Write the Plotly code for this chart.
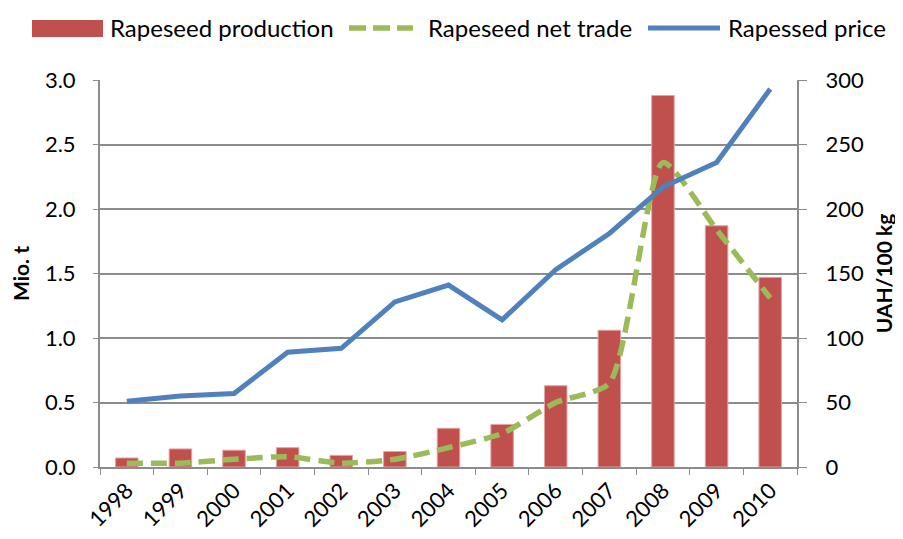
import plotly.graph_objects as go

YEARS = ["1998", "1999", "2000", "2001", "2002", "2003", "2004",
         "2005", "2006", "2007", "2008", "2009", "2010"]
PRODUCTION = [0.07, 0.14, 0.13, 0.15, 0.09, 0.12, 0.30, 0.33, 0.63, 1.06, 2.88, 1.87, 1.47]
NET_TRADE = [0.03, 0.03, 0.06, 0.08, 0.03, 0.06, 0.15, 0.26, 0.50, 0.65, 2.36, 1.84, 1.31]
PRICE = [51, 55, 57, 89, 92, 128, 141, 114, 153, 181, 217, 236, 293]
SERIES_NAMES = ["Rapeseed production", "Rapeseed net trade", "Rapessed price"]

FONT = "Lato, Open Sans, sans-serif"
GRID = "#8c8c8c"
RED, GREEN, BLUE = "#C0504D", "#9BBB59", "#4F81BD"
DASH = "16px,8px"

# plot area in page pixels, used to place the hand-drawn legend
PX_LEFT, PX_RIGHT, PX_TOP, PX_BOTTOM = 100, 797, 80, 467


def px(x, y):
    return ((x - PX_LEFT) / (PX_RIGHT - PX_LEFT), (PX_BOTTOM - y) / (PX_BOTTOM - PX_TOP))


fig = go.Figure()
fig.add_trace(go.Bar(
    x=YEARS, y=PRODUCTION, name=SERIES_NAMES[0],
    marker={"color": RED, "line": {"color": "#e3a3a1", "width": 1}},
    width=0.42,
))
fig.add_trace(go.Scatter(
    x=YEARS, y=NET_TRADE, name=SERIES_NAMES[1], mode="lines",
    line={"color": GREEN, "width": 5.5, "dash": DASH, "shape": "spline", "smoothing": 0.6},
))
fig.add_trace(go.Scatter(
    x=YEARS, y=PRICE, name=SERIES_NAMES[2], mode="lines", yaxis="y2",
    line={"color": BLUE, "width": 5},
))

# legend: wide swatches like the original spreadsheet chart
x0, y0 = px(32, 20)
x1, y1 = px(103, 37)
fig.add_shape(type="rect", xref="paper", yref="paper", x0=x0, y0=y0, x1=x1, y1=y1,
              fillcolor=RED, line={"width": 0})
x0, ym = px(349, 28)
x1, _ = px(413, 28)
fig.add_shape(type="line", xref="paper", yref="paper", x0=x0, y0=ym, x1=x1, y1=ym,
              line={"color": GREEN, "width": 5.5, "dash": "17px,7px"})
x0, ym = px(648, 28)
x1, _ = px(720, 28)
fig.add_shape(type="line", xref="paper", yref="paper", x0=x0, y0=ym, x1=x1, y1=ym,
              line={"color": BLUE, "width": 5})
for name, left in zip(SERIES_NAMES, [108, 426, 726]):
    xa, ya = px(left, 28)
    fig.add_annotation(text=name, xref="paper", yref="paper", x=xa, y=ya,
                       xanchor="left", yanchor="middle", showarrow=False,
                       font={"size": 24})

fig.update_layout(
    width=903, height=539,
    paper_bgcolor="white", plot_bgcolor="white",
    font={"family": FONT, "size": 22, "color": "black"},
    margin={"l": 92, "r": 114, "t": 72, "b": 80, "autoexpand": False},
    showlegend=False,
    xaxis={
        "type": "category", "tickangle": -45, "showgrid": False,
        "showline": True, "linecolor": GRID, "linewidth": 2,
        "ticks": "outside", "tickson": "boundaries", "ticklen": 6, "tickcolor": GRID,
        "tickfont": {"size": 22},
    },
    yaxis={
        "range": [0, 3.0], "dtick": 0.5, "tickformat": ".1f",
        "showgrid": True, "gridcolor": GRID, "gridwidth": 1.5,
        "showline": True, "linecolor": GRID, "linewidth": 2,
        "ticks": "outside", "ticklen": 5, "tickcolor": GRID, "zeroline": False,
        "ticklabelstandoff": 13,
        "title": {"text": "<b>Mio. t</b>", "font": {"size": 21}, "standoff": 14},
    },
    yaxis2={
        "range": [0, 300], "dtick": 50, "overlaying": "y", "side": "right",
        "showgrid": False, "showline": True, "linecolor": GRID, "linewidth": 2,
        "ticks": "outside", "ticklen": 8, "tickcolor": GRID, "zeroline": False,
        "ticklabelstandoff": 14,
        "title": {"text": "<b>UAH/100 kg</b>", "font": {"size": 21}, "standoff": 14},
    },
)

fig.write_html("out.html")
